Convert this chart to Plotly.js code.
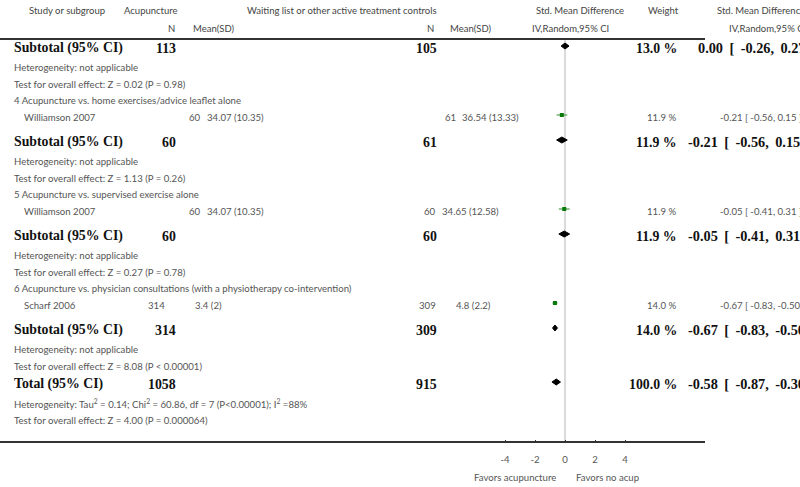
<!DOCTYPE html>
<html>
<head>
<meta charset="utf-8">
<script src="https://cdn.plot.ly/plotly-3.0.1.min.js"></script>
<style>
  body { margin: 0; background: #fff; }
  #chart { width: 800px; height: 487px; }
</style>
</head>
<body>
<div id="chart"></div>
<script>
// subgroup data (group 0 continues from the previous page, so it has no title / study)
const groupTitles = [
  '',
  '4 Acupuncture vs. home exercises/advice leaflet alone',
  '5 Acupuncture vs. supervised exercise alone',
  '6 Acupuncture vs. physician consultations (with a physiotherapy co-intervention)'
];
const studyNames = [null, 'Williamson 2007', 'Williamson 2007', 'Scharf 2006'];
const studyAcupN = [null, 60, 60, 314];
const studyAcupMean = [null, '34.07 (10.35)', '34.07 (10.35)', '3.4 (2)'];
const studyCtrlN = [null, 61, 60, 309];
const studyCtrlMean = [null, '36.54 (13.33)', '34.65 (12.58)', '4.8 (2.2)'];
const studyWeight = [null, 11.9, 11.9, 14.0];
const studySmd = [null, -0.21, -0.05, -0.67];
const studyLo = [null, -0.56, -0.41, -0.83];
const studyHi = [null, 0.15, 0.31, -0.50];

const subAcupN = [113, 60, 60, 314];
const subCtrlN = [105, 61, 60, 309];
const subWeight = [13.0, 11.9, 11.9, 14.0];
const subSmd = [0.00, -0.21, -0.05, -0.67];
const subLo = [-0.26, -0.56, -0.41, -0.83];
const subHi = [0.27, 0.15, 0.31, -0.50];
const subHet = ['not applicable', 'not applicable', 'not applicable', 'not applicable'];
const subTest = ['Z = 0.02 (P = 0.98)', 'Z = 1.13 (P = 0.26)', 'Z = 0.27 (P = 0.78)', 'Z = 8.08 (P < 0.00001)'];

const totalAcupN = 1058;
const totalCtrlN = 915;
const totalWeight = 100.0;
const totalSmd = -0.58;
const totalLo = -0.87;
const totalHi = -0.30;
const totalHet = 'Tau<sup>2</sup> = 0.14; Chi<sup>2</sup> = 60.86, df = 7 (P<0.00001); I<sup>2</sup> =88%';
const totalTest = 'Z = 4.00 (P = 0.000064)';

const tickVals = [-4, -2, 0, 2, 4];

// page geometry (pixels)
const W = 800, H = 487, PLOT_BOTTOM = 443;
const ZERO_PX = 565, PX_PER_UNIT = 15, RULE_END = 705;
// per-study column x (the source table is not tab-aligned the same on every row)
const studyCols = [
  null,
  { aN: 202, aM: 206, cN: 457, cM: 461 },
  { aN: 202, aM: 206, cN: 437, cM: 441 },
  { aN: 166, aM: 194, cN: 437, cM: 455 }
];

const SMALL = { family: 'Lato, "Open Sans", sans-serif', size: 9.6, color: '#555' };
const HEAD = { family: 'Lato, "Open Sans", sans-serif', size: 9.5, color: '#444' };
const BOLD = { family: '"Liberation Serif", "Times New Roman", serif', size: 13.8, color: '#111', weight: 'bold' };
const BOLD_CI = Object.assign({}, BOLD, { size: 14.3 });

const fmt = (v) => v.toFixed(2);
const SP = ' \u2009'; // the source sets the CI column a little looser
const ciText = (e, lo, hi, sp) => `${fmt(e)}${sp}[${sp}${fmt(lo)},${sp}${fmt(hi)}${sp}]`;
const pct = (w) => `${w.toFixed(1)} %`;

// build the row sequence
const rows = [];
groupTitles.forEach((title, g) => {
  if (title) {
    rows.push({ type: 'group', g });
    rows.push({ type: 'study', g });
  }
  rows.push({ type: 'subtotal', g });
  rows.push({ type: 'het', g });
  rows.push({ type: 'test', g });
});
rows.push({ type: 'total' }, { type: 'totalHet' }, { type: 'totalTest' });

const gap = (prev, cur) => {
  if (cur === 'subtotal' && prev === 'study') return 25;
  if (prev === 'subtotal' || prev === 'total') return 19;
  if (cur === 'total') return 18;
  if (cur === 'group') return 16;
  return 17;
};
let yPos = 48;
rows.forEach((r, i) => {
  if (i > 0) yPos += gap(rows[i - 1].type, r.type);
  r.y = yPos;
});

const ann = [];
const txt = (text, px, y, anchor, font) => ann.push({
  text, x: px / W, xref: 'paper', y, yref: 'y', xanchor: anchor, yanchor: 'middle',
  showarrow: false, font, borderpad: 0
});
// bold CI column: values without a minus sign start a bit further right
const boldCi = (e, lo, hi, y) => txt(ciText(e, lo, hi, SP), 687 + (e >= 0 ? 10 : 0), y, 'left', BOLD_CI);

// header
txt('Study or subgroup', 28, 10, 'left', HEAD);
txt('Acupuncture', 123, 10, 'left', HEAD);
txt('Waiting list or other active treatment controls', 246, 10, 'left', HEAD);
txt('Std. Mean Difference', 580, 10, 'center', HEAD);
txt('Weight', 647, 10, 'left', HEAD);
txt('Std. Mean Difference', 716, 10, 'left', HEAD);
txt('N', 176, 28, 'right', HEAD);
txt('Mean(SD)', 192, 28, 'left', HEAD);
txt('N', 435, 28, 'right', HEAD);
txt('Mean(SD)', 449, 28, 'left', HEAD);
txt('IV,Random,95% CI', 531, 28, 'left', HEAD);
txt('IV,Random,95% CI', 728, 28, 'left', HEAD);

const studyX = [], studyY = [], studyPlus = [], studyMinus = [];
const diaX = [], diaY = [];
const addDiamond = (e, lo, hi, y) => {
  diaX.push(lo, e, hi, e, lo, null);
  diaY.push(y, y - 3, y, y + 3, y, null);
};

rows.forEach((r) => {
  const g = r.g;
  if (r.type === 'group') {
    txt(groupTitles[g], 13, r.y, 'left', SMALL);
  } else if (r.type === 'study') {
    const c = studyCols[g];
    txt(studyNames[g], 23, r.y, 'left', SMALL);
    txt(String(studyAcupN[g]), c.aN, r.y, 'right', SMALL);
    txt(studyAcupMean[g], c.aM, r.y, 'left', SMALL);
    txt(String(studyCtrlN[g]), c.cN, r.y, 'right', SMALL);
    txt(studyCtrlMean[g], c.cM, r.y, 'left', SMALL);
    txt(pct(studyWeight[g]), 677, r.y, 'right', SMALL);
    txt(ciText(studySmd[g], studyLo[g], studyHi[g], ' '), 719, r.y, 'left', SMALL);
    studyX.push(studySmd[g]);
    studyY.push(r.y - 2);
    studyPlus.push(studyHi[g] - studySmd[g]);
    studyMinus.push(studySmd[g] - studyLo[g]);
  } else if (r.type === 'subtotal') {
    txt('Subtotal (95% CI)', 13, r.y, 'left', BOLD);
    txt(String(subAcupN[g]), 177, r.y, 'right', BOLD);
    txt(String(subCtrlN[g]), 438, r.y, 'right', BOLD);
    txt(pct(subWeight[g]), 678, r.y, 'right', BOLD);
    boldCi(subSmd[g], subLo[g], subHi[g], r.y);
    addDiamond(subSmd[g], subLo[g], subHi[g], r.y - 2);
  } else if (r.type === 'het') {
    txt('Heterogeneity: ' + subHet[g], 13, r.y, 'left', SMALL);
  } else if (r.type === 'test') {
    txt('Test for overall effect: ' + subTest[g], 13, r.y, 'left', SMALL);
  } else if (r.type === 'total') {
    txt('Total (95% CI)', 13, r.y, 'left', BOLD);
    txt(String(totalAcupN), 177, r.y, 'right', BOLD);
    txt(String(totalCtrlN), 438, r.y, 'right', BOLD);
    txt(pct(totalWeight), 678, r.y, 'right', BOLD);
    boldCi(totalSmd, totalLo, totalHi, r.y);
    addDiamond(totalSmd, totalLo, totalHi, r.y - 2);
  } else if (r.type === 'totalHet') {
    txt('Heterogeneity: ' + totalHet, 13, r.y, 'left', SMALL);
  } else if (r.type === 'totalTest') {
    txt('Test for overall effect: ' + totalTest, 13, r.y, 'left', SMALL);
  }
});

// footer labels under the axis (paper y is relative to the plot area bottom)
const footY = (PLOT_BOTTOM - 477) / PLOT_BOTTOM;
ann.push({ text: 'Favors acupuncture', x: 515 / W, xref: 'paper', y: footY, yref: 'paper',
  yanchor: 'middle', xanchor: 'center', showarrow: false, font: SMALL });
ann.push({ text: 'Favors no acup', x: 607 / W, xref: 'paper', y: footY, yref: 'paper',
  yanchor: 'middle', xanchor: 'center', showarrow: false, font: SMALL });

const data = [
  {
    x: diaX, y: diaY, type: 'scatter', mode: 'lines', fill: 'toself',
    fillcolor: '#000', line: { color: '#000', width: 1 }, hoverinfo: 'skip'
  },
  {
    x: studyX, y: studyY, type: 'scatter', mode: 'markers',
    marker: { symbol: 'square', size: 4, color: '#0a7a0a' },
    error_x: { type: 'data', symmetric: false, array: studyPlus, arrayminus: studyMinus,
      color: '#2e8b2e', thickness: 1, width: 0 },
    hoverinfo: 'skip'
  }
];

const xMin = -ZERO_PX / PX_PER_UNIT;
const xMax = (W - ZERO_PX) / PX_PER_UNIT;

const layout = {
  width: W, height: H,
  margin: { l: 0, r: 0, t: 0, b: H - PLOT_BOTTOM },
  paper_bgcolor: '#fff', plot_bgcolor: '#fff',
  showlegend: false,
  xaxis: {
    range: [xMin, xMax], tickvals: tickVals, ticktext: tickVals.map(String),
    ticks: 'inside', ticklen: 3, tickcolor: '#333', tickwidth: 1,
    showgrid: false, zeroline: false, showline: false,
    tickfont: SMALL, ticklabelstandoff: 9, fixedrange: true
  },
  yaxis: { range: [PLOT_BOTTOM, 0], visible: false, fixedrange: true },
  shapes: [
    { type: 'line', xref: 'paper', yref: 'y', x0: 0, x1: RULE_END / W, y0: 39, y1: 39,
      line: { color: '#333', width: 2 } },
    { type: 'line', xref: 'paper', yref: 'y', x0: 0, x1: RULE_END / W, y0: PLOT_BOTTOM - 1, y1: PLOT_BOTTOM - 1,
      line: { color: '#333', width: 2 } },
    { type: 'line', xref: 'x', yref: 'y', x0: 0, x1: 0, y0: 40, y1: PLOT_BOTTOM,
      line: { color: '#cfcfcf', width: 1.5 }, layer: 'below' }
  ],
  annotations: ann
};

Plotly.newPlot('chart', data, layout, { displayModeBar: false, staticPlot: true });
</script>
</body>
</html>
